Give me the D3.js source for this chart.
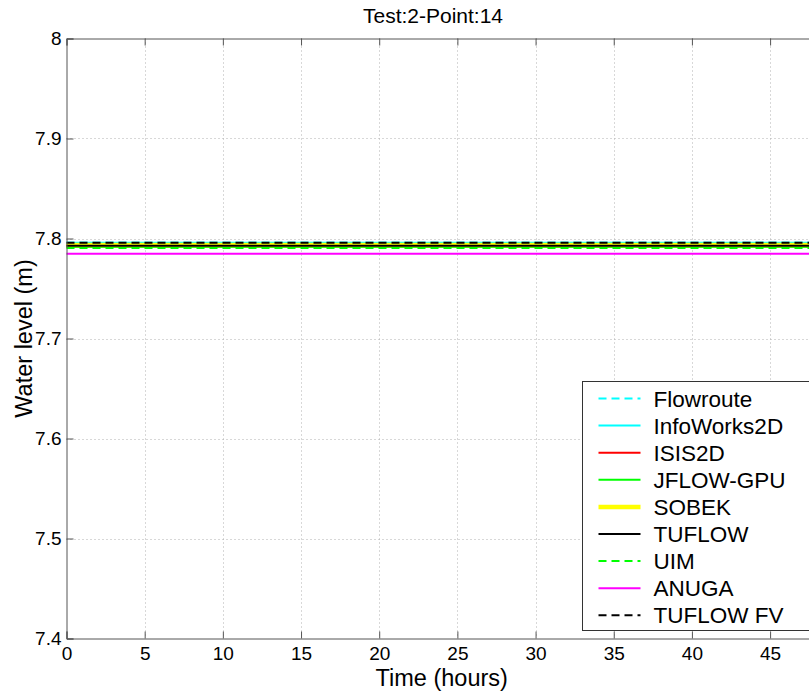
<!DOCTYPE html>
<html>
<head>
<meta charset="utf-8">
<script src="https://cdn.jsdelivr.net/npm/d3@7"></script>
<style>
  html, body { margin: 0; padding: 0; background: #fff; }
  svg { display: block; font-family: "Liberation Sans", Arial, sans-serif; }
</style>
</head>
<body>
<svg id="chart" width="809" height="695"></svg>
<script>
// ---- data ----
const title = "Test:2-Point:14";
const xLabel = "Time (hours)";
const yLabel = "Water level (m)";
const xTicks = [0, 5, 10, 15, 20, 25, 30, 35, 40, 45];
const yTicks = [7.4, 7.5, 7.6, 7.7, 7.8, 7.9, 8];
const times = [0, 12, 24, 36, 48];
const seriesNames = ["Flowroute", "InfoWorks2D", "ISIS2D", "JFLOW-GPU", "SOBEK", "TUFLOW", "UIM", "ANUGA", "TUFLOW FV"];
const flowroute   = [7.7958, 7.7958, 7.7958, 7.7958, 7.7958];
const infoworks2d = [7.7958, 7.7958, 7.7958, 7.7958, 7.7958];
const isis2d      = [7.7932, 7.7932, 7.7932, 7.7932, 7.7932];
const jflowgpu    = [7.7915, 7.7915, 7.7915, 7.7915, 7.7915];
const sobek       = [7.7935, 7.7935, 7.7935, 7.7935, 7.7935];
const tuflow      = [7.7928, 7.7928, 7.7928, 7.7928, 7.7928];
const uim         = [7.7905, 7.7905, 7.7905, 7.7905, 7.7905];
const anuga       = [7.7847, 7.7847, 7.7847, 7.7847, 7.7847];
const tuflowfv    = [7.7958, 7.7958, 7.7958, 7.7958, 7.7958];
const seriesValues = [flowroute, infoworks2d, isis2d, jflowgpu, sobek, tuflow, uim, anuga, tuflowfv];

// ---- styles ----
const styles = [
  {color: "#00ffff", width: 2, dash: "8,5"},
  {color: "#00ffff", width: 2, dash: null},
  {color: "#ff0000", width: 2, dash: null},
  {color: "#00ff00", width: 2, dash: null},
  {color: "#ffff00", width: 4.5, dash: null},
  {color: "#000000", width: 2, dash: null},
  {color: "#00ff00", width: 2, dash: "8,5"},
  {color: "#ff00ff", width: 2, dash: null},
  {color: "#000000", width: 2, dash: "8,5"}
];

const svg = d3.select("#chart");
const L = 66.5, R = 817, T = 38.5, B = 638.5;
const x = d3.scaleLinear().domain([0, 48]).range([L, R]);
const y = d3.scaleLinear().domain([7.4, 8]).range([B, T]);

// grid
const grid = svg.append("g");
grid.selectAll(".vg").data(xTicks.slice(1)).enter().append("line")
  .attr("x1", d => Math.round(x(d)) + 0.5).attr("x2", d => Math.round(x(d)) + 0.5)
  .attr("y1", T).attr("y2", B)
  .attr("stroke", "#b0b0b0").attr("stroke-width", 1).attr("stroke-dasharray", "1,3");
grid.selectAll(".hg").data(yTicks.slice(1, -1)).enter().append("line")
  .attr("y1", d => Math.round(y(d)) + 0.5).attr("y2", d => Math.round(y(d)) + 0.5)
  .attr("x1", L).attr("x2", R)
  .attr("stroke", "#b0b0b0").attr("stroke-width", 1).attr("stroke-dasharray", "1,3");

// series
const line = d3.line().x((d, i) => x(times[i])).y(d => y(d));
const plot = svg.append("g");
seriesValues.forEach((vals, i) => {
  const s = styles[i];
  plot.append("path").datum(vals)
    .attr("d", line)
    .attr("fill", "none")
    .attr("stroke", s.color)
    .attr("stroke-width", s.width)
    .attr("stroke-dasharray", s.dash);
});

// axes (MATLAB style, ticks inward)
const axisColor = "#555";
const xAxisB = d3.axisBottom(x).tickValues(xTicks).tickSize(-7).tickPadding(8).tickFormat(d3.format("d"));
const xAxisT = d3.axisTop(x).tickValues(xTicks).tickSize(-7).tickFormat("");
const yAxisL = d3.axisLeft(y).tickValues(yTicks).tickSize(-7).tickPadding(5).tickFormat(d => d3.format("")(d));
const yAxisR = d3.axisRight(y).tickValues(yTicks).tickSize(-7).tickFormat("");

function styleAxis(g) {
  g.select(".domain").attr("stroke", axisColor);
  g.selectAll(".tick line").attr("stroke", axisColor);
  g.selectAll(".tick text").attr("fill", "#000").style("font-size", "19px")
    .style("font-family", '"Liberation Sans", Arial, sans-serif');
}
svg.append("g").attr("transform", `translate(0,${B})`).call(xAxisB).call(styleAxis);
svg.append("g").attr("transform", `translate(0,${T})`).call(xAxisT).call(styleAxis);
svg.append("g").attr("transform", `translate(${L},0)`).call(yAxisL).call(styleAxis);
svg.append("g").attr("transform", `translate(${R},0)`).call(yAxisR).call(styleAxis);

// titles
svg.append("text").attr("x", 433).attr("y", 23).attr("text-anchor", "middle")
  .style("font-size", "21px").text(title);
svg.append("text").attr("x", (L + R) / 2).attr("y", 686).attr("text-anchor", "middle")
  .style("font-size", "23.5px").text(xLabel);
svg.append("text").attr("transform", `translate(32,${(T + B) / 2}) rotate(-90)`)
  .attr("text-anchor", "middle").style("font-size", "23.5px").text(yLabel);

// legend
const lg = svg.append("g").attr("transform", "translate(582.5,381.5)");
lg.append("rect").attr("x", 0).attr("y", 0).attr("width", 240).attr("height", 249)
  .attr("fill", "#fff").attr("stroke", "#333").attr("stroke-width", 1);
seriesNames.forEach((name, i) => {
  const s = styles[i];
  const yy = 17 + i * 27.1;
  lg.append("line").attr("x1", 16).attr("x2", 58).attr("y1", yy).attr("y2", yy)
    .attr("stroke", s.color).attr("stroke-width", s.width).attr("stroke-dasharray", s.dash);
  lg.append("text").attr("x", 71).attr("y", yy + 8).style("font-size", "22.5px").text(name);
});
</script>
</body>
</html>
